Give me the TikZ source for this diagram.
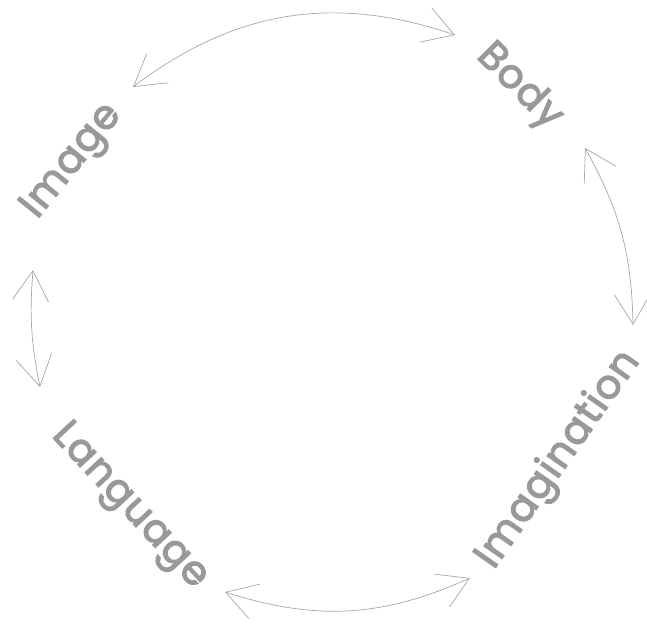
\documentclass[tikz,border=0pt]{standalone}
\usepackage{fontspec}
\newfontfamily\wordfont{Poppins}[FakeBold=3, LetterSpace=3]
\usepackage{tikz}
\usetikzlibrary{arrows.meta}

\begin{document}
\begin{tikzpicture}[x=1pt, y=1pt,
        word/.style={text=black!40, font=\wordfont\fontsize{40}{40}\selectfont, inner sep=0pt},
        link/.style={<->, >={Straight Barb[length=30pt, width=36pt]}, draw=black!35, line width=0.7pt}]
        \useasboundingbox (0,0) rectangle (647,625);
        \node[word, rotate=-45] (body) at (519,538) {Body};
        \node[word, rotate=51] (image) at (73,463) {Image};
        \node[word, rotate=-47] (lang) at (129,118) {Language};
        \node[word, rotate=55] (imag) at (559,165) {Imagination};
        % ends of the links
        \coordinate (image-r) at (133,538);
        \coordinate (body-l) at (455,590);
        \coordinate (body-b) at (585,477);
        \coordinate (imag-t) at (633,300);
        \coordinate (lang-r) at (225,33);
        \coordinate (imag-l) at (470,47);
        \coordinate (image-b) at (33,355);
        \coordinate (lang-t) at (40,238);
        \draw[link] (image-r) to[bend left=28] (body-l);
        \draw[link] (body-b) to[bend left=14] (imag-t);
        \draw[link] (lang-r) to[bend right=21] (imag-l);
        \draw[link] (image-b) to[bend right=8] (lang-t);
    \end{tikzpicture}
\end{document}
